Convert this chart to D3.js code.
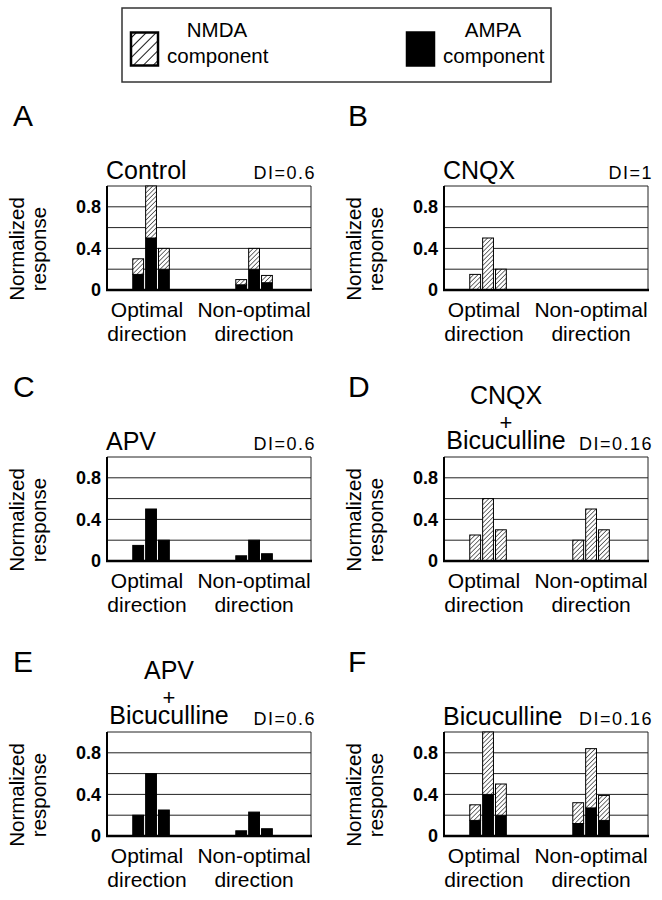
<!DOCTYPE html>
<html>
<head>
<meta charset="utf-8">
<script src="https://cdn.jsdelivr.net/npm/d3@7"></script>
<style>
  html, body { margin: 0; padding: 0; background: #fff; }
  svg { display: block; font-family: "Liberation Sans", Arial, Helvetica, sans-serif; }
</style>
</head>
<body>
<svg id="chart" width="662" height="900"></svg>
<script>
// ---------- data ----------
const panelLetters = ["A", "B", "C", "D", "E", "F"];
const panelTitles = [["Control"], ["CNQX"], ["APV"], ["CNQX", "+", "Bicuculline"], ["APV", "+", "Bicuculline"], ["Bicuculline"]];
const diLabels = ["DI=0.6", "DI=1", "DI=0.6", "DI=0.16", "DI=0.6", "DI=0.16"];
const directionGroups = [["Optimal", "direction"], ["Non-optimal", "direction"]];
// three bars per direction group: optimal (3), then non-optimal (3)
const ampaValues = [
  [0.15, 0.50, 0.20, 0.05, 0.20, 0.07],  // A Control
  [0, 0, 0, 0, 0, 0],                     // B CNQX
  [0.15, 0.50, 0.20, 0.05, 0.20, 0.07],  // C APV
  [0, 0, 0, 0, 0, 0],                     // D CNQX + Bicuculline
  [0.20, 0.60, 0.25, 0.05, 0.23, 0.07],  // E APV + Bicuculline
  [0.15, 0.40, 0.20, 0.12, 0.27, 0.15]   // F Bicuculline
];
const nmdaValues = [
  [0.15, 0.50, 0.20, 0.05, 0.20, 0.07],
  [0.15, 0.50, 0.20, 0, 0, 0],
  [0, 0, 0, 0, 0, 0],
  [0.25, 0.60, 0.30, 0.20, 0.50, 0.30],
  [0, 0, 0, 0, 0, 0],
  [0.15, 0.60, 0.30, 0.20, 0.57, 0.24]
];
const yTickValues = [0, 0.4, 0.8];
const yGridValues = [0.2, 0.4, 0.6, 0.8];
const legendItems = [["NMDA", "component"], ["AMPA", "component"]];

// ---------- layout ----------
const colLeft = [107, 444];
const rowTop = [186, 457, 732];
const pw = 204, ph = 104;
const slotCount = 16;
const groupStartSlot = [2, 10];
const labelShift = [-4, 0];

const svg = d3.select("#chart");
const defs = svg.append("defs");

function hatch(id, size, sw) {
  const p = defs.append("pattern").attr("id", id)
    .attr("patternUnits", "userSpaceOnUse")
    .attr("width", size).attr("height", size)
    .attr("patternTransform", "rotate(45)");
  p.append("rect").attr("width", size).attr("height", size).attr("fill", "#fff");
  p.append("line").attr("x1", 0).attr("y1", 0).attr("x2", 0).attr("y2", size)
    .attr("stroke", "#000").attr("stroke-width", sw);
}
hatch("hatch", 3.2, 1.1);
hatch("hatchLegend", 7, 1.8);

// ---------- legend ----------
const lg = svg.append("g");
lg.append("rect").attr("x", 122).attr("y", 8).attr("width", 429).attr("height", 74)
  .attr("fill", "none").attr("stroke", "#333").attr("stroke-width", 1.5);
const legendSwatchX = [131, 407];
const legendFill = ["url(#hatchLegend)", "#000"];
legendItems.forEach((lines, i) => {
  lg.append("rect").attr("x", legendSwatchX[i]).attr("y", 32.5).attr("width", 27).attr("height", 33)
    .attr("fill", legendFill[i]).attr("stroke", "#000").attr("stroke-width", 2.5);
  lg.append("text").attr("x", legendSwatchX[i] + 86).attr("y", 37).attr("text-anchor", "middle")
    .attr("font-size", 20.5).text(lines[0]);
  lg.append("text").attr("x", legendSwatchX[i] + 36).attr("y", 63).attr("text-anchor", "start")
    .attr("font-size", 20.5).text(lines[1]);
});

// ---------- panels ----------
panelLetters.forEach((letter, i) => {
  const col = i % 2, row = Math.floor(i / 2);
  const left = colLeft[col], top = rowTop[row];

  // panel letter
  svg.append("text").attr("x", col === 0 ? 13 : 348).attr("y", top - 60)
    .attr("font-size", 30).text(letter);

  const g = svg.append("g").attr("transform", `translate(${left},${top})`);
  const y = d3.scaleLinear().domain([0, 1]).range([ph, 0]);
  const x = d3.scaleBand().domain(d3.range(slotCount)).range([0, pw]).paddingInner(0.16);

  // grid + frame
  g.selectAll(".grid").data(yGridValues).join("line")
    .attr("x1", 0).attr("x2", pw).attr("y1", d => y(d)).attr("y2", d => y(d))
    .attr("stroke", "#222").attr("stroke-width", 1);
  g.append("line").attr("x1", 0).attr("x2", pw).attr("y1", y(1)).attr("y2", y(1))
    .attr("stroke", "#222").attr("stroke-width", 1);
  g.append("line").attr("x1", pw).attr("x2", pw).attr("y1", y(1)).attr("y2", y(0))
    .attr("stroke", "#222").attr("stroke-width", 1);

  // stacked bars
  const rows = d3.range(6).map(j => ({
    slot: groupStartSlot[Math.floor(j / 3)] + (j % 3),
    ampa: ampaValues[i][j],
    nmda: nmdaValues[i][j]
  }));
  const stacked = d3.stack().keys(["ampa", "nmda"])(rows);
  const fills = { ampa: "#000", nmda: "url(#hatch)" };
  stacked.forEach(layer => {
    g.append("g").selectAll("rect")
      .data(layer.filter(d => d[1] - d[0] > 0))
      .join("rect")
      .attr("x", d => x(d.data.slot))
      .attr("width", x.bandwidth())
      .attr("y", d => y(d[1]))
      .attr("height", d => y(d[0]) - y(d[1]))
      .attr("fill", fills[layer.key])
      .attr("stroke", "#000").attr("stroke-width", 1);
  });

  // axes lines
  g.append("line").attr("x1", 0).attr("x2", 0).attr("y1", y(1)).attr("y2", y(0) + 1)
    .attr("stroke", "#000").attr("stroke-width", 2);
  g.append("line").attr("x1", -1).attr("x2", pw + 1).attr("y1", y(0)).attr("y2", y(0))
    .attr("stroke", "#000").attr("stroke-width", 2.5);

  // y tick labels
  const ax = g.append("g").call(
    d3.axisLeft(y).tickValues(yTickValues).tickSize(0).tickPadding(6)
      .tickFormat(d => d === 0 ? "0" : d3.format(".1f")(d))
  );
  ax.select(".domain").remove();
  ax.selectAll("text").attr("font-size", 18).attr("font-weight", "bold")
    .attr("font-family", "Liberation Sans, Arial, sans-serif").attr("fill", "#000");

  // y axis title
  const yt = g.append("g").attr("transform", `translate(${-83},${ph / 2 + 11}) rotate(-90)`);
  yt.append("text").attr("text-anchor", "middle").attr("y", 0).attr("font-size", 20.5).text("Normalized");
  yt.append("text").attr("text-anchor", "middle").attr("y", 22).attr("font-size", 20.5).text("response");

  // x group labels
  directionGroups.forEach((lines, gi) => {
    const s = groupStartSlot[gi];
    const cx = (x(s) + x(s + 2) + x.bandwidth()) / 2 + labelShift[gi];
    lines.forEach((t, li) => {
      g.append("text").attr("x", cx).attr("y", ph + 27 + li * 24)
        .attr("text-anchor", "middle").attr("font-size", 21).text(t);
    });
  });

  // title
  const title = panelTitles[i];
  if (title.length === 1) {
    g.append("text").attr("x", -1).attr("y", -7).attr("font-size", 25).text(title[0]);
  } else {
    const tx = 62;
    g.append("text").attr("x", tx).attr("y", -8).attr("text-anchor", "middle").attr("font-size", 25).text(title[2]);
    g.append("text").attr("x", tx).attr("y", -35).attr("text-anchor", "middle")
      .attr("dominant-baseline", "central").attr("font-size", 22).text(title[1]);
    g.append("text").attr("x", tx).attr("y", -53).attr("text-anchor", "middle").attr("font-size", 25).text(title[0]);
  }

  // DI label
  g.append("text").attr("x", pw + 5).attr("y", -7).attr("text-anchor", "end")
    .attr("font-size", 18).attr("letter-spacing", "1.5px").text(diLabels[i]);
});
</script>
</body>
</html>
